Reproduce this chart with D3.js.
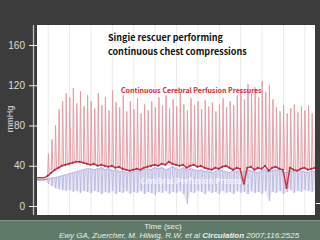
<!DOCTYPE html>
<html>
<head>
<meta charset="utf-8">
<script src="https://cdn.jsdelivr.net/npm/d3@7"></script>
<style>
  html, body { margin: 0; padding: 0; background: #3c3c3c; }
  svg { display: block; }
</style>
</head>
<body>
<svg id="chart" width="320" height="240"></svg>
<script>
// one entry per chest compression (first three = flat trace before CPR starts), mmHg
const redPeak = [null, null, null,
  52, 66, 80, 96, 104, 112, 108, 117, 102, 114, 99, 110,
  104, 97, 112, 100, 108, 95, 115, 103, 98, 110, 94,
  104, 96, 107, 92, 101, 95, 104, 98, 108,
  100, 110, 97, 106, 99, 112, 101, 95, 107, 100, 104,
  96, 105, 99, 103, 94, 101, 107, 98, 104, 100,
  110, 116, 106, 121, 112, 118, 108, 124, 113, 120, 106,
  98, 94, 100, 92, 97, 101, 93, 99, 95, 100, 92, 96]

const redBase = [28, 28, 28,
  30, 33, 36, 38, 40, 41, 42, 43, 44, 44, 43, 42,
  41, 42, 40, 41, 40, 39, 40, 38, 39, 37, 36,
  35, 36, 37, 36, 38, 39, 40, 41, 40,
  42, 41, 44, 42, 41, 40, 41, 38, 40, 41, 39,
  40, 38, 37, 36, 38, 37, 39, 40, 38, 36,
  38, 37, 22, 38, 39, 36, 38, 37, 40, 35, 38,
  39, 37, 36, 18, 38, 36, 35, 37, 38, 36, 37, 38]

const blueTop = [26, 26, 26,
  27, 28, 28, 29, 30, 31, 32, 33, 34, 35, 36, 37,
  37, 36, 37, 38, 36, 37, 35, 36, 34, 35, 33,
  33, 34, 35, 34, 36, 37, 36, 38, 37,
  38, 36, 37, 39, 37, 36, 38, 35, 37, 36, 35,
  36, 34, 35, 33, 34, 36, 35, 34, 33, 35,
  34, 35, 33, 36, 35, 34, 33, 35, 36, 34, 35,
  36, 35, 34, 33, 35, 34, 36, 35, 34, 33, 35, 34]

const blueLow = [26, 26, 26,
  22, 20, 18, 17, 16, 15, 16, 14, 15, 13, 15, 14,
  13, 15, 14, 12, 14, 13, 15, 12, 14, 13, 15,
  12, 14, 13, 15, 12, 14, 13, 11, 14,
  13, 15, 12, 14, 13, 15, 12, 2, 14, 13, 15,
  14, 12, 15, 13, 14, 12, 15, 13, 14, 12,
  15, 13, 14, 12, 15, 13, 14, 12, 15, 5, 14,
  13, 15, 12, 14, 16, 13, 15, 14, 16, 15, 14, 16]

const yTicks = [0, 40, 80, 120, 160]

const beats = redBase.map((d, i) => i)

const svg = d3.select('#chart')
const plot = { left: 37, right: 315, top: 25, bottom: 215 }

const x = d3.scaleLinear().domain([0, beats.length - 1]).range([plot.left, plot.right])
const y = d3.scaleLinear().domain([0, 160]).range([206, 45])

// backgrounds
svg.append('rect').attr('width', 320).attr('height', 240).attr('fill', '#3c3c3c')
svg.append('rect').attr('x', 0).attr('y', 220).attr('width', 320).attr('height', 20).attr('fill', '#5f7a68')
svg.append('line').attr('x1', 0).attr('x2', 320).attr('y1', 220.5).attr('y2', 220.5)
  .attr('stroke', '#7d9585').attr('stroke-width', 1)
svg.append('rect')
  .attr('x', plot.left).attr('y', plot.top)
  .attr('width', plot.right - plot.left).attr('height', plot.bottom - plot.top)
  .attr('fill', '#ffffff')

svg.append('clipPath').attr('id', 'clip')
  .append('rect')
  .attr('x', plot.left).attr('y', plot.top)
  .attr('width', plot.right - plot.left).attr('height', plot.bottom - plot.top)

const g = svg.append('g').attr('clip-path', 'url(#clip)')

// faint chart-paper grid
g.selectAll('line.grid')
  .data(beats.filter(i => i % 6 === 3))
  .enter().append('line')
  .attr('class', 'grid')
  .attr('x1', d => x(d) + 0.5).attr('x2', d => x(d) + 0.5)
  .attr('y1', plot.top).attr('y2', plot.bottom)
  .attr('stroke', '#eaeaea').attr('stroke-width', 1)

// blue band
g.append('path')
  .datum(beats)
  .attr('d', d3.area().x(i => x(i)).y0(i => y(blueLow[i])).y1(i => y(blueTop[i])))
  .attr('fill', '#e9e9f7')

g.selectAll('path.blue')
  .data(beats.filter(i => i >= 3))
  .enter().append('path')
  .attr('class', 'blue')
  .attr('d', i => `M${x(i)},${y(blueTop[i])}L${x(i) + 0.8},${y(blueLow[i])}L${x(i) + 1.8},${y(blueTop[i])}`)
  .attr('fill', 'none')
  .attr('stroke', '#b2b2dc').attr('stroke-width', 0.8)

g.append('path')
  .datum(beats)
  .attr('d', d3.line().x(i => x(i)).y(i => y(blueTop[i])))
  .attr('fill', 'none').attr('stroke', '#bcbce4').attr('stroke-width', 1.2)

g.append('path')
  .datum(beats.slice(0, 4))
  .attr('d', d3.line().x(i => x(i)).y(i => y(blueTop[i])))
  .attr('fill', 'none').attr('stroke', '#8d8dc8').attr('stroke-width', 1)

// faint overlay label
g.append('text')
  .attr('x', 140).attr('y', 184)
  .attr('font-family', 'Noto Sans CJK JP, sans-serif')
  .attr('font-size', 8).attr('font-weight', 'bold')
  .attr('fill', '#ffffff').attr('opacity', 0.75)
  .text('Cerebral Perfusion Pressure')

// red pulses: up-stroke to the peak and back down
g.selectAll('path.red')
  .data(beats.filter(i => redPeak[i] != null))
  .enter().append('path')
  .attr('class', 'red')
  .attr('d', i => `M${x(i)},${y(redBase[i])}L${x(i) + 0.7},${y(redPeak[i])}L${x(i) + 1.7},${y(redBase[i])}`)
  .attr('fill', 'none')
  .attr('stroke', '#e59aa1').attr('stroke-width', 0.95)

g.append('path')
  .datum(beats)
  .attr('d', d3.line().x(i => x(i)).y(i => y(redBase[i])))
  .attr('fill', 'none').attr('stroke', '#c9364a').attr('stroke-width', 1.5)

g.selectAll('circle.red')
  .data(beats.filter(i => i >= 3))
  .enter().append('circle')
  .attr('class', 'red')
  .attr('cx', i => x(i)).attr('cy', i => y(redBase[i]))
  .attr('r', 1)
  .attr('fill', '#b8283c')

// y axis
svg.append('line')
  .attr('x1', 33.5).attr('x2', 33.5).attr('y1', plot.top).attr('y2', plot.bottom)
  .attr('stroke', '#c8c8c8').attr('stroke-width', 1.2)

const ticks = svg.selectAll('g.tick').data(yTicks).enter().append('g').attr('class', 'tick')
ticks.append('line')
  .attr('x1', 29).attr('x2', 37)
  .attr('y1', d => y(d) + 0.5).attr('y2', d => y(d) + 0.5)
  .attr('stroke', '#eeeeee').attr('stroke-width', 1)
ticks.append('text')
  .attr('x', 25).attr('y', d => y(d) + 3.5)
  .attr('text-anchor', 'end')
  .attr('font-family', 'Liberation Sans, Arial, sans-serif')
  .attr('font-size', 10)
  .attr('fill', '#dddddd')
  .text(d => d)

svg.append('text')
  .attr('transform', 'translate(13,119) rotate(-90)')
  .attr('text-anchor', 'middle')
  .attr('font-family', 'Liberation Sans, Arial, sans-serif')
  .attr('font-size', 9)
  .attr('fill', '#dddddd')
  .text('mmHg')

svg.append('line')
  .attr('x1', 316).attr('x2', 320).attr('y1', 203.5).attr('y2', 203.5)
  .attr('stroke', '#ffffff')

// titles
const title = svg.append('text')
  .attr('font-family', 'Noto Sans CJK JP, sans-serif')
  .attr('font-size', 9).attr('font-weight', 'bold')
  .attr('fill', '#111111')
title.append('tspan').attr('x', 108).attr('y', 41).text('Singie rescuer performing')
title.append('tspan').attr('x', 108).attr('y', 55).text('continuous chest compressions')

svg.append('text')
  .attr('x', 121).attr('y', 93)
  .attr('font-family', 'Noto Sans CJK JP, sans-serif')
  .attr('font-size', 7).attr('font-weight', 'bold')
  .attr('fill', '#e0262e')
  .text('Continuous Cerebral Perfusion Pressures')

svg.append('text')
  .attr('x', 163).attr('y', 229)
  .attr('text-anchor', 'middle')
  .attr('font-family', 'Liberation Sans, Arial, sans-serif')
  .attr('font-size', 8)
  .attr('fill', '#eeeeee')
  .text('Time (sec)')

const cite = svg.append('text')
  .attr('x', 59).attr('y', 238)
  .attr('font-family', 'Liberation Sans, Arial, sans-serif')
  .attr('font-size', 8).attr('font-style', 'italic')
  .attr('fill', '#eeeeee')
cite.append('tspan').text('Ewy GA, Zuercher, M. Hilwig, R.W. et al ')
cite.append('tspan').attr('font-weight', 'bold').text('Circulation')
cite.append('tspan').text(' 2007;116:2525')
</script>
</body>
</html>
